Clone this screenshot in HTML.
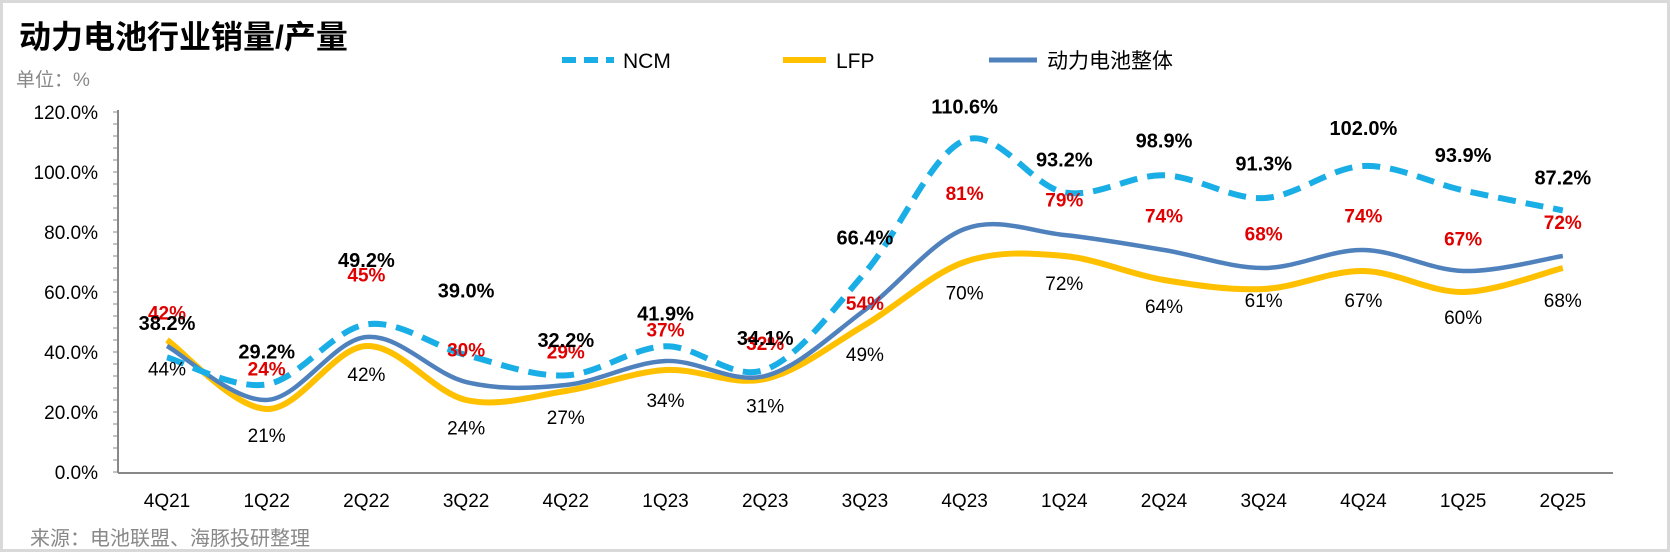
<!DOCTYPE html>
<html><head><meta charset="utf-8"><style>
html,body{margin:0;padding:0;background:#fff}
#c{position:relative;width:1670px;height:552px;overflow:hidden}
svg text{font-family:"Liberation Sans","Noto Sans CJK SC",sans-serif}
</style></head><body><div id="c"><svg id="s" width="1670" height="552" xmlns="http://www.w3.org/2000/svg"></svg></div>
<script>
const s=document.getElementById('s');
let h='';
h+='<rect x="1.5" y="1.5" width="1667" height="549" fill="#fff" stroke="#d9d9d9" stroke-width="3"/>';
h+='<text x="19" y="48" font-size="32" font-weight="bold" fill="#000">动力电池行业销量/产量</text>';
h+='<text x="16" y="86" font-size="19" fill="#888">单位：%</text>';
h+='<text x="30" y="545" font-size="20" fill="#888">来源：电池联盟、海豚投研整理</text>';
const x0=167,dx=99.7,Y=v=>472-3*v;
h+='<line x1="118" y1="110" x2="118" y2="473" stroke="#888" stroke-width="2"/>';
h+='<line x1="118" y1="473" x2="1613" y2="473" stroke="#888" stroke-width="2"/>';
for(let v=0;v<=120;v+=4){h+=`<line x1="113" y1="${Y(v)}" x2="118" y2="${Y(v)}" stroke="#888" stroke-width="1"/>`;}
for(let v=0;v<=120;v+=20){h+=`<text x="98" y="${Y(v)+7}" font-size="19" text-anchor="end" fill="#000">${v.toFixed(1)}%</text>`;}
const cats=['4Q21','1Q22','2Q22','3Q22','4Q22','1Q23','2Q23','3Q23','4Q23','1Q24','2Q24','3Q24','4Q24','1Q25','2Q25'];
cats.forEach((c,i)=>h+=`<text x="${x0+i*dx}" y="507" font-size="19" text-anchor="middle" fill="#000">${c}</text>`);
const ncm=[38.2,29.2,49.2,39.0,32.2,41.9,34.1,66.4,110.6,93.2,98.9,91.3,102.0,93.9,87.2];
const lfp=[44,21,42,24,27,34,31,49,70,72,64,61,67,60,68];
const tot=[42,24,45,30,29,37,32,54,81,79,74,68,74,67,72];
function path(d){const p=d.map((v,i)=>[x0+i*dx,Y(v)]);let o=`M${p[0][0]},${p[0][1]}`;
for(let i=0;i<p.length-1;i++){const a=p[i-1]||p[i],b=p[i],c=p[i+1],e=p[i+2]||c;const t=6;
o+=` C${b[0]+(c[0]-a[0])/t},${b[1]+(c[1]-a[1])/t} ${c[0]-(e[0]-b[0])/t},${c[1]-(e[1]-b[1])/t} ${c[0]},${c[1]}`;}return o;}
h+=`<path d="${path(lfp)}" fill="none" stroke="#ffc000" stroke-width="6"/>`;
h+=`<path d="${path(tot)}" fill="none" stroke="#4f81bd" stroke-width="4.5"/>`;
h+=`<path d="${path(ncm)}" fill="none" stroke="#1aaee6" stroke-width="6" stroke-dasharray="18,10"/>`;
const ny=[306,333,246,275,322,297,320,225,101,151,133,155,121,147,168];
const ry=[296,349,260,331,333,312,325,287,183,189,204,221,204,226,210];
const ly=[349,412,354,405,395,379,384,335,277,268,290,284,284,300,284];
const k=1.056;
cats.forEach((c,i)=>{const x=x0+i*dx;
h+=`<text x="${x}" y="${ly[i]*k+7}" font-size="19" text-anchor="middle" fill="#000">${lfp[i]}%</text>`;
h+=`<text x="${x}" y="${ry[i]*k+7}" font-size="19" font-weight="bold" text-anchor="middle" fill="#e00000">${tot[i]}%</text>`;
h+=`<text x="${x}" y="${ny[i]*k+7}" font-size="20" font-weight="bold" text-anchor="middle" fill="#000">${ncm[i].toFixed(1)}%</text>`;});
h+='<line x1="562" y1="60" x2="614" y2="60" stroke="#1aaee6" stroke-width="6" stroke-dasharray="14,8"/>';
h+='<text x="623" y="68" font-size="21" fill="#000">NCM</text>';
h+='<line x1="783" y1="60" x2="826" y2="60" stroke="#ffc000" stroke-width="6"/>';
h+='<text x="836" y="68" font-size="21" fill="#000">LFP</text>';
h+='<line x1="989" y1="60" x2="1037" y2="60" stroke="#4f81bd" stroke-width="5"/>';
h+='<text x="1047" y="68" font-size="21" fill="#000">动力电池整体</text>';
s.innerHTML=h;
</script></body></html>
